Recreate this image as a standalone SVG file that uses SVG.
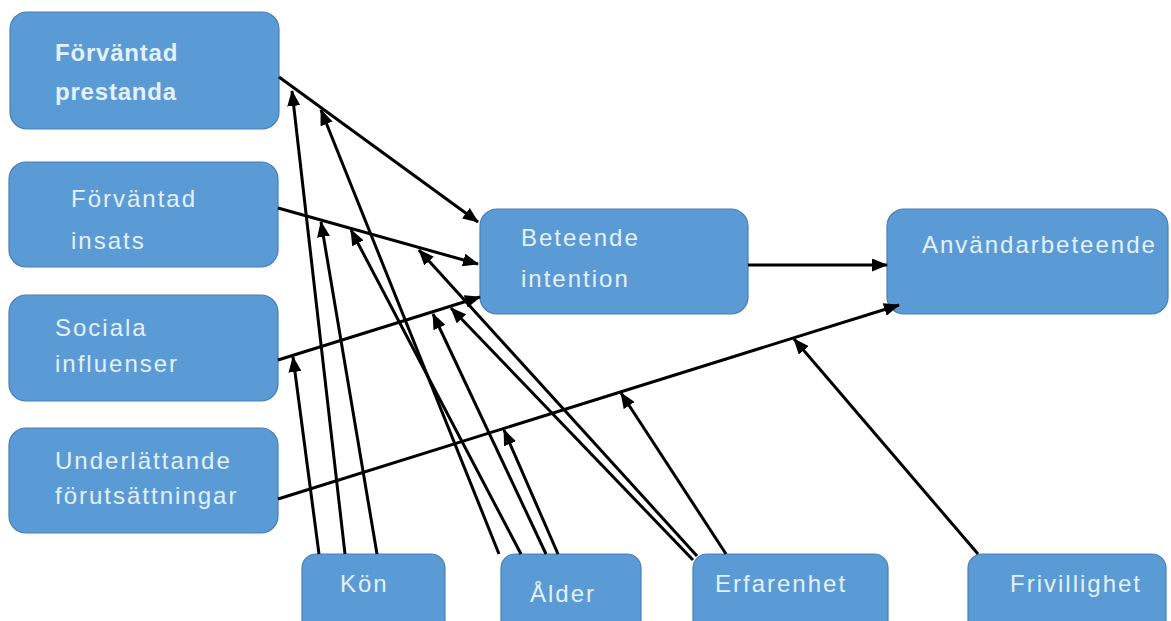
<svg xmlns="http://www.w3.org/2000/svg" width="1171" height="621" viewBox="0 0 1171 621">
<style>
.box{fill:#5b9bd5;stroke:#4a7fb5;stroke-width:1.2}
.t{font-family:"Liberation Sans",Arial,sans-serif;font-size:24px;fill:#e4f1fb;letter-spacing:2px}
.tb{font-weight:bold;letter-spacing:0.8px}
.c line{stroke:#000;stroke-width:3;marker-end:url(#ah)}
</style>
<defs>
<marker id="ah" markerUnits="userSpaceOnUse" markerWidth="16" markerHeight="13" viewBox="0 0 16 13" refX="15" refY="6.5" orient="auto">
<path d="M0,0 L16,6.5 L0,13 Z" fill="#000"/>
</marker>
</defs>
<rect width="1171" height="621" fill="#fff"/>
<g id="n-fp"><rect class="box" x="10" y="12" width="269" height="117" rx="17"/><text class="t tb" x="55" y="61">Förväntad</text><text class="t tb" x="55" y="100">prestanda</text></g>
<g id="n-fi"><rect class="box" x="9" y="162" width="269" height="105" rx="17"/><text class="t" x="71" y="207">Förväntad</text><text class="t" x="71" y="249">insats</text></g>
<g id="n-si"><rect class="box" x="9" y="295" width="269" height="106" rx="17"/><text class="t" x="55" y="336">Sociala</text><text class="t" x="55" y="372">influenser</text></g>
<g id="n-uf"><rect class="box" x="9" y="428" width="269" height="105" rx="17"/><text class="t" x="55" y="469">Underlättande</text><text class="t" x="55" y="504">förutsättningar</text></g>
<g id="n-bi"><rect class="box" x="480" y="209" width="268" height="105" rx="17"/><text class="t" x="521" y="246">Beteende</text><text class="t" x="521" y="287">intention</text></g>
<g id="n-ab"><rect class="box" x="887" y="209" width="281" height="105" rx="17"/><text class="t" x="922" y="253">Användarbeteende</text></g>
<g id="n-kon"><rect class="box" x="302" y="554" width="143" height="80" rx="14"/><text class="t" x="340" y="592">Kön</text></g>
<g id="n-alder"><rect class="box" x="501" y="554" width="140" height="80" rx="14"/><text class="t" x="530" y="602">Ålder</text></g>
<g id="n-erf"><rect class="box" x="693" y="554" width="195" height="80" rx="14"/><text class="t" x="715" y="592">Erfarenhet</text></g>
<g id="n-friv"><rect class="box" x="968" y="554" width="198" height="80" rx="14"/><text class="t" x="1010" y="592">Frivillighet</text></g>
<g id="connectors" class="c">
<line x1="279" y1="77" x2="478" y2="222"/>
<line x1="278" y1="208" x2="478" y2="264"/>
<line x1="278" y1="360" x2="480" y2="297"/>
<line x1="278" y1="499" x2="899" y2="305"/>
<line x1="748" y1="265" x2="887" y2="265"/>
<line x1="319" y1="554" x2="293" y2="357"/>
<line x1="345" y1="554" x2="292" y2="91"/>
<line x1="377" y1="554" x2="321" y2="222"/>
<line x1="499" y1="554" x2="321" y2="110"/>
<line x1="521" y1="554" x2="351" y2="230"/>
<line x1="546" y1="554" x2="433" y2="314"/>
<line x1="558" y1="554" x2="504" y2="430"/>
<line x1="697" y1="556" x2="419" y2="250"/>
<line x1="693" y1="560" x2="451" y2="308"/>
<line x1="726" y1="554" x2="621" y2="393"/>
<line x1="978" y1="554" x2="794" y2="339"/>
</g>
</svg>
